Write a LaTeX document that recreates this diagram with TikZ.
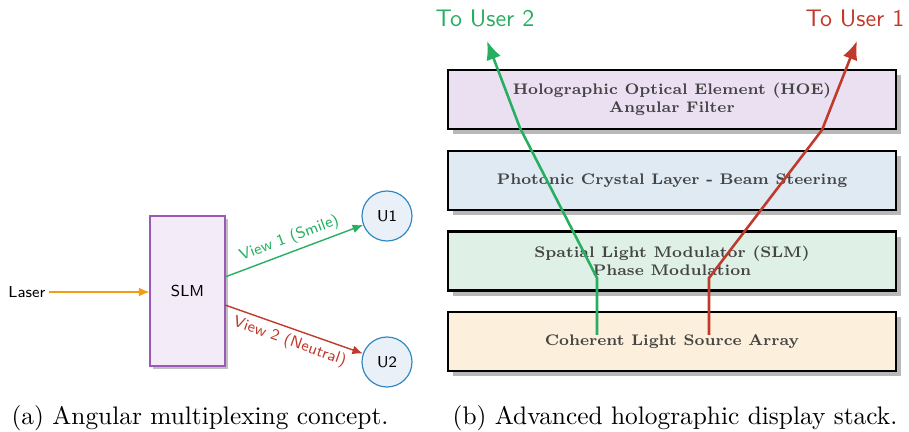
\documentclass[tikz,border=0pt]{standalone}
\usetikzlibrary{arrows.meta,shadows,calc}
\definecolor{cgreen}{HTML}{27AE60}
\definecolor{cred}{HTML}{C0392B}
\definecolor{corange}{HTML}{F39C12}
\definecolor{cpurple}{HTML}{9B59B6}
\definecolor{cpurplefill}{HTML}{F3EBF8}
\definecolor{cblue}{HTML}{2E86C1}
\definecolor{cbluefill}{HTML}{EAF0F7}
\definecolor{hoefill}{HTML}{EBE0F2}
\definecolor{phcfill}{HTML}{DFEAF3}
\definecolor{slmfill}{HTML}{DFF1E6}
\definecolor{srcfill}{HTML}{FCEFDC}
\definecolor{ltext}{HTML}{444444}
\newcommand\pxu{0.43pt}
\tikzset{
  sfs/.style={font=\sffamily\fontsize{6.8}{8}\selectfont},
  layer/.style={draw=black, line width=0.9pt, minimum width={448*\pxu}, minimum height={59*\pxu},
     text=ltext, align=center, font=\fontsize{6.6}{7.5}\selectfont\bfseries, inner sep=0pt,
     drop shadow={shadow xshift=2.3pt, shadow yshift=-2.3pt, fill=black!28, opacity=1}},
  slmbox/.style={draw=cpurple, fill=cpurplefill, line width=0.5pt, minimum width={75*\pxu}, minimum height={150*\pxu},
     sfs, drop shadow={shadow xshift=1.5pt, shadow yshift=-1.5pt, fill=black!25, opacity=1}},
  user/.style={circle, draw=cblue, fill=cbluefill, line width=0.5pt, minimum size={50*\pxu}, inner sep=0pt, sfs},
  beam/.style={line width=1.1pt, -{Latex[length=8pt,width=6.5pt]}},
  lbeam/.style={line width=0.6pt, -{Latex[length=4.5pt,width=3.8pt]}},
  captext/.style={font=\fontsize{10.9}{12}\selectfont},
}
\begin{document}
\begin{tikzpicture}[x=0.43pt,y=-0.43pt]
\useasboundingbox (0,0) rectangle (909,432);
% ---------- left ----------
\node[sfs, anchor=west, inner sep=0pt] (laser) at (8,292) {Laser};
\node[slmbox] (slm) at (187.5,291) {SLM};
\node[user] (u1) at (387,216) {U1};
\node[user] (u2) at (387,362) {U2};
\coordinate (lstart) at (49,292);
\draw[lbeam, corange] (lstart) -- (slm.west |- lstart);
\coordinate (g0) at (225,277);
\coordinate (r0) at (225,305);
\draw[lbeam, cgreen] (g0) -- node[sloped, above, sfs, text=cgreen, inner sep=2pt] {View 1 (Smile)} (u1);
\draw[lbeam, cred] (r0) -- node[sloped, below, sfs, text=cred, inner sep=2pt] {View 2 (Neutral)} (u2);
\node[captext] (capa) at (200,418) {(a) Angular multiplexing concept.};
% ---------- right ----------
\node[layer, fill=hoefill] (hoe) at (672,99.5) {Holographic Optical Element (HOE)\\Angular Filter};
\node[layer, fill=phcfill] (phc) at (672,180.5) {Photonic Crystal Layer - Beam Steering};
\node[layer, fill=slmfill] (slml) at (672,261) {Spatial Light Modulator (SLM)\\Phase Modulation};
\node[layer, fill=srcfill] (src) at (672,341.5) {Coherent Light Source Array};
\coordinate (ga) at (597,335);
\coordinate (gb) at (597,278);
\coordinate (gc) at (520,128);
\coordinate (gd) at (487,41);
\coordinate (ra) at (709,335);
\coordinate (rb) at (709,278);
\coordinate (rc) at (822,130);
\coordinate (rd) at (857,41);
\draw[beam, cgreen] (ga) -- (gb) -- (gc) -- (gd);
\draw[beam, cred] (ra) -- (rb) -- (rc) -- (rd);
\node[font=\sffamily\fontsize{10.3}{12}\selectfont, text=cgreen] (tu2) at (485,18) {To User 2};
\node[font=\sffamily\fontsize{10.3}{12}\selectfont, text=cred] (tu1) at (855,18) {To User 1};
\node[captext] (capb) at (675,418) {(b) Advanced holographic display stack.};
\end{tikzpicture}
\end{document}
